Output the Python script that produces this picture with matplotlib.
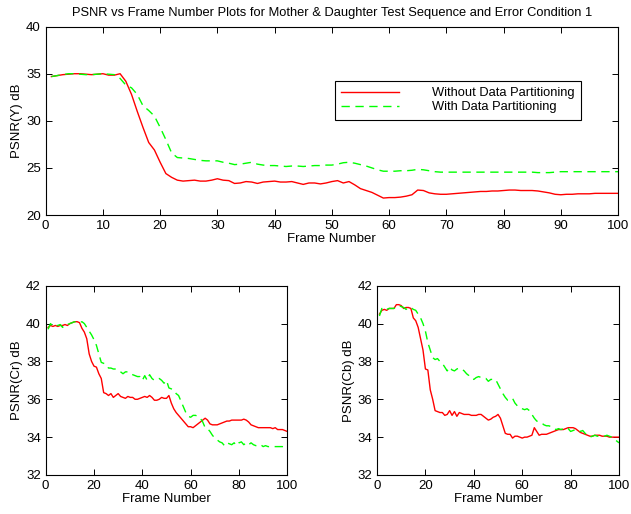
import matplotlib
matplotlib.use("Agg")
import matplotlib.pyplot as plt

plt.rcParams['font.family'] = ['Liberation Sans', 'DejaVu Sans']

# frame numbers
frames = list(range(1, 101))

# PSNR(Y) values
y_without = [34.7, 34.8, 34.9, 34.95, 35.0, 35.0, 34.95, 34.9, 34.95, 35.0,
             34.85, 34.85, 35.0, 34.2, 32.8, 31.0, 29.3, 27.7, 26.9, 25.6,
             24.4, 24.0, 23.7, 23.6, 23.65, 23.7, 23.6, 23.6, 23.7, 23.85,
             23.7, 23.65, 23.35, 23.4, 23.55, 23.5, 23.35, 23.5, 23.55, 23.6,
             23.5, 23.5, 23.55, 23.4, 23.25, 23.4, 23.4, 23.3, 23.4, 23.55,
             23.65, 23.4, 23.55, 23.2, 22.8, 22.6, 22.4, 22.1, 21.8, 21.85,
             21.85, 21.9, 22.0, 22.15, 22.65, 22.6, 22.35, 22.25, 22.2, 22.2,
             22.25, 22.3, 22.35, 22.4, 22.45, 22.5, 22.5, 22.55, 22.55, 22.6,
             22.65, 22.65, 22.6, 22.6, 22.6, 22.55, 22.45, 22.35, 22.2, 22.15,
             22.2, 22.2, 22.25, 22.25, 22.25, 22.3, 22.3, 22.3, 22.3, 22.3]
y_with = [34.7, 34.8, 34.9, 35.0, 35.0, 34.95, 34.9, 34.9, 34.95, 35.0,
          34.95, 34.9, 34.5, 33.8, 33.5, 32.8, 31.6, 31.1, 30.5, 29.3,
          28.0, 26.6, 26.1, 26.05, 26.0, 25.9, 25.8, 25.75, 25.75, 25.75,
          25.6, 25.5, 25.35, 25.4, 25.5, 25.6, 25.4, 25.3, 25.25, 25.25,
          25.2, 25.15, 25.2, 25.2, 25.15, 25.2, 25.25, 25.25, 25.3, 25.3,
          25.4, 25.55, 25.6, 25.5, 25.35, 25.2, 25.0, 24.8, 24.65, 24.65,
          24.65, 24.7, 24.7, 24.75, 24.85, 24.8, 24.7, 24.6, 24.55, 24.55,
          24.55, 24.55, 24.55, 24.55, 24.55, 24.55, 24.55, 24.55, 24.55, 24.55,
          24.55, 24.55, 24.55, 24.55, 24.55, 24.5, 24.5, 24.5, 24.55, 24.6,
          24.6, 24.6, 24.6, 24.6, 24.6, 24.6, 24.6, 24.6, 24.6, 24.6]

# PSNR(Cr) values
cr_without = [39.8, 39.9, 39.85, 39.9, 39.85, 39.9, 39.9, 39.95, 39.9, 40.0,
              40.05, 40.1, 40.1, 40.05, 39.75, 39.55, 39.2, 38.4, 38.0, 37.75,
              37.7, 37.35, 37.1, 36.35, 36.3, 36.2, 36.3, 36.1, 36.2, 36.3,
              36.15, 36.1, 36.05, 36.15, 36.1, 36.1, 36.0, 36.0, 36.05, 36.1,
              36.15, 36.1, 36.2, 36.1, 35.95, 35.95, 36.0, 36.1, 36.05, 36.05,
              36.2, 35.8, 35.5, 35.3, 35.15, 35.0, 34.85, 34.7, 34.55, 34.55,
              34.5, 34.6, 34.7, 34.8, 34.9, 35.0, 34.9, 34.7, 34.65, 34.65,
              34.65, 34.7, 34.75, 34.8, 34.85, 34.85, 34.9, 34.9, 34.9, 34.9,
              34.9, 34.95, 34.9, 34.8, 34.65, 34.6, 34.55, 34.5, 34.5, 34.5,
              34.5, 34.5, 34.5, 34.45, 34.5, 34.4, 34.4, 34.4, 34.35, 34.3]
cr_with = [39.7, 40.0, 39.85, 39.9, 39.9, 39.95, 39.8, 39.95, 39.95, 40.0,
           40.05, 40.1, 40.05, 40.05, 40.1, 40.0, 39.8, 39.6, 39.4, 39.15,
           38.85, 38.4, 37.95, 37.9, 37.85, 37.65, 37.65, 37.6, 37.6, 37.55,
           37.45, 37.35, 37.45, 37.45, 37.35, 37.3, 37.25, 37.2, 37.2, 37.0,
           37.25, 37.0, 37.3, 37.1, 37.0, 37.05, 37.1, 37.0, 36.85, 37.0,
           36.6, 36.55, 36.5, 36.3, 36.2, 35.9, 35.6, 35.3, 35.1, 35.05,
           35.15, 35.15, 35.1, 35.0, 34.8, 34.5, 34.45, 34.3, 34.1, 33.95,
           33.85, 33.75, 33.7, 33.55, 33.7, 33.65, 33.6, 33.7, 33.55, 33.7,
           33.75, 33.6, 33.7, 33.6, 33.7, 33.6, 33.55, 33.55, 33.6, 33.5,
           33.55, 33.5, 33.5, 33.5, 33.5, 33.5, 33.5, 33.5, 33.45, 33.35]

# PSNR(Cb) values
cb_without = [40.5, 40.7, 40.75, 40.7, 40.8, 40.8, 40.8, 41.0, 41.0, 40.95,
              40.8, 40.85, 40.85, 40.8, 40.3, 40.15, 39.8, 39.2, 38.6, 37.6,
              37.55, 36.5, 36.0, 35.4, 35.35, 35.3, 35.3, 35.15, 35.2, 35.4,
              35.15, 35.35, 35.1, 35.3, 35.25, 35.2, 35.2, 35.2, 35.15, 35.15,
              35.15, 35.2, 35.2, 35.1, 35.0, 34.9, 34.95, 35.05, 35.1, 35.2,
              35.0, 34.6, 34.2, 34.15, 34.15, 33.95, 34.05, 34.05, 34.0, 33.95,
              34.0, 34.0, 34.05, 34.1, 34.5, 34.3, 34.1, 34.15, 34.15, 34.15,
              34.2, 34.25, 34.3, 34.35, 34.4, 34.4, 34.4, 34.45, 34.5, 34.5,
              34.5, 34.45, 34.35, 34.25, 34.2, 34.15, 34.1, 34.05, 34.05, 34.1,
              34.1, 34.1, 34.05, 34.05, 34.05, 34.0, 34.0, 34.0, 34.0, 34.0]
cb_with = [40.4, 40.8, 40.7, 40.75, 40.8, 40.8, 40.8, 40.9, 40.95, 40.9,
           40.85, 40.75, 40.85, 40.85, 40.75, 40.7, 40.5, 40.3, 40.0, 39.6,
           39.0, 38.6, 38.2, 38.1, 38.15, 38.0, 37.9, 37.7, 37.5, 37.7,
           37.55, 37.5, 37.6, 37.65, 37.6, 37.5, 37.35, 37.25, 37.1, 37.05,
           37.15, 37.2, 37.15, 37.1, 37.1, 36.95, 37.05, 37.05, 37.05, 36.8,
           36.55, 36.3, 36.1, 35.95, 36.0, 36.05, 35.8, 35.65, 35.55, 35.5,
           35.45, 35.5, 35.4, 35.2, 35.0, 34.85, 34.8, 34.75, 34.65, 34.6,
           34.6, 34.55, 34.45, 34.4, 34.45, 34.4, 34.45, 34.5, 34.45, 34.3,
           34.35, 34.4, 34.4, 34.3, 34.35, 34.2, 34.1, 34.0, 34.05, 34.1,
           34.05, 34.05, 34.05, 34.05, 34.1, 34.05, 34.0, 33.9, 33.8, 33.7]

red = '#ff0000'
green = '#00ff00'
fs = 9.5
dash = (0, (6, 4))


def style_axes(ax):
    # matlab like box with inward ticks on all sides
    ax.tick_params(direction='in', top=True, right=True, labelsize=fs,
                   length=4, width=0.7)
    for s in ax.spines.values():
        s.set_linewidth(0.8)


fig = plt.figure(figsize=(6.31, 5.14), dpi=100)

ax1 = fig.add_axes([0.0724, 0.5817, 0.9070, 0.3665])
ax1.plot(frames, y_without, color=red, lw=1.0, label='Without Data Partitioning')
ax1.plot(frames, y_with, color=green, lw=1.0, ls=dash, label='With Data Partitioning')
ax1.set_xlim(0, 100)
ax1.set_ylim(20, 40)
ax1.set_xticks(range(0, 101, 10))
ax1.set_yticks(range(20, 41, 5))
ax1.set_xlabel('Frame Number', fontsize=fs, labelpad=1)
ax1.set_ylabel('PSNR(Y) dB', fontsize=fs, labelpad=2)
ax1.set_title('PSNR vs Frame Number Plots for Mother & Daughter Test Sequence and Error Condition 1',
              fontsize=9.3, pad=8)
style_axes(ax1)
leg = ax1.legend(loc='center', bbox_to_anchor=(0.500, 0.505, 0.440, 0.21),
                 fontsize=9.3, handlelength=4.5, handletextpad=2.5,
                 fancybox=False, framealpha=1, edgecolor='black',
                 borderpad=0.5, labelspacing=0.15)
leg.get_frame().set_linewidth(0.8)

ax2 = fig.add_axes([0.0724, 0.0759, 0.3829, 0.3682])
ax2.plot(frames, cr_without, color=red, lw=1.0)
ax2.plot(frames, cr_with, color=green, lw=1.0, ls=dash)
ax2.set_xlim(0, 100)
ax2.set_ylim(32, 42)
ax2.set_xticks(range(0, 101, 20))
ax2.set_yticks(range(32, 43, 2))
ax2.set_xlabel('Frame Number', fontsize=fs, labelpad=1)
ax2.set_ylabel('PSNR(Cr) dB', fontsize=fs, labelpad=2)
style_axes(ax2)

ax3 = fig.add_axes([0.5975, 0.0759, 0.3835, 0.3682])
ax3.plot(frames, cb_without, color=red, lw=1.0)
ax3.plot(frames, cb_with, color=green, lw=1.0, ls=dash)
ax3.set_xlim(0, 100)
ax3.set_ylim(32, 42)
ax3.set_xticks(range(0, 101, 20))
ax3.set_yticks(range(32, 43, 2))
ax3.set_xlabel('Frame Number', fontsize=fs, labelpad=1)
ax3.set_ylabel('PSNR(Cb) dB', fontsize=fs, labelpad=2)
style_axes(ax3)

fig.savefig('out.png', dpi=100)
